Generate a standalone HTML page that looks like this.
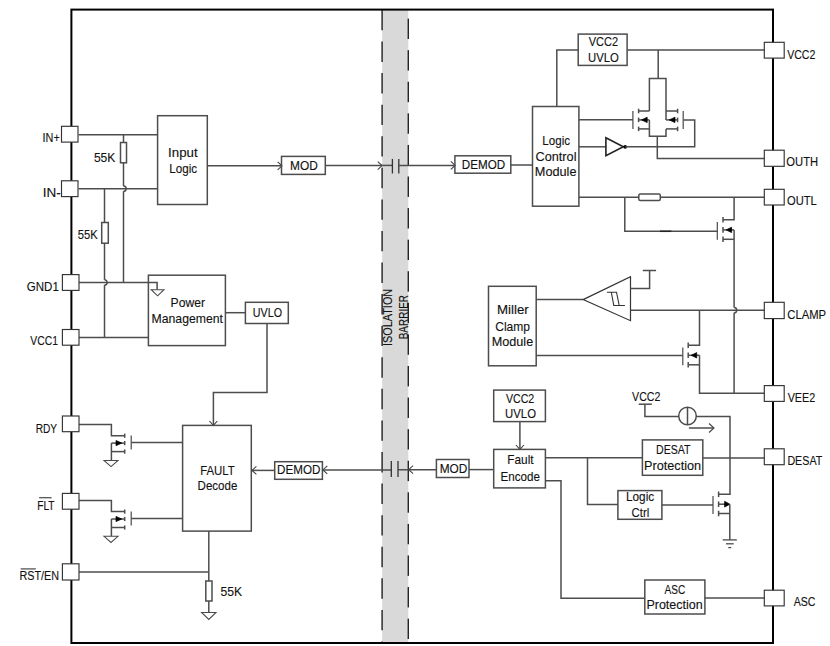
<!DOCTYPE html>
<html><head><meta charset="utf-8"><title>Block diagram</title><style>
html,body{margin:0;padding:0;background:#fff;}
svg{display:block;}
.w{fill:none;stroke:#4d4d4d;stroke-width:1.5;}
.b{fill:none;stroke:#4d4d4d;stroke-width:1.5;}
.pad{fill:#fff;stroke:#333;stroke-width:1.15;}
.border{fill:none;stroke:#000;stroke-width:2;}
.barfill{fill:#d9d9d9;stroke:none;}
.dash{stroke:#262626;stroke-width:1.45;}
.ah{fill:none;stroke:#444;stroke-width:1.1;}
.cap{stroke:#333;stroke-width:1.3;}
.gate{stroke:#4a4a4a;stroke-width:1.2;}
.arr{fill:#000;stroke:#000;stroke-width:0.7;stroke-linejoin:miter;}
.gnd{fill:#fff;stroke:#4a4a4a;stroke-width:1.05;}
.inv{fill:none;stroke:#222;stroke-width:1.6;}
.cmp{fill:none;stroke:#333;stroke-width:1.2;}
.hy{fill:none;stroke:#333;stroke-width:1.1;}
.dot{fill:#000;}
.dk{stroke:#222;stroke-width:1.5;}
.gl{stroke:#4a4a4a;stroke-width:1.3;}
.ol{stroke:#555;stroke-width:1.3;}
.t{font-family:"Liberation Sans",sans-serif;fill:#111;stroke:#111;stroke-width:0.12;}
</style></head>
<body><svg width="830" height="646" viewBox="0 0 830 646">
<rect x="0" y="0" width="830" height="646" fill="#fff"/>
<rect class="barfill" x="382.2" y="9.6" width="26.1" height="633.4"/>
<line class="dash" x1="382.1" y1="9.9" x2="382.1" y2="30.3"/>
<line class="dash" x1="382.1" y1="41.48" x2="382.1" y2="61.88"/>
<line class="dash" x1="382.1" y1="73.06" x2="382.1" y2="93.46"/>
<line class="dash" x1="382.1" y1="104.64" x2="382.1" y2="125.04"/>
<line class="dash" x1="382.1" y1="136.22" x2="382.1" y2="156.62"/>
<line class="dash" x1="382.1" y1="167.8" x2="382.1" y2="188.2"/>
<line class="dash" x1="382.1" y1="199.38" x2="382.1" y2="219.78"/>
<line class="dash" x1="382.1" y1="230.96" x2="382.1" y2="251.36"/>
<line class="dash" x1="382.1" y1="262.54" x2="382.1" y2="282.94"/>
<line class="dash" x1="382.1" y1="294.12" x2="382.1" y2="314.52"/>
<line class="dash" x1="382.1" y1="325.7" x2="382.1" y2="346.1"/>
<line class="dash" x1="382.1" y1="357.28" x2="382.1" y2="377.68"/>
<line class="dash" x1="382.1" y1="388.86" x2="382.1" y2="409.26"/>
<line class="dash" x1="382.1" y1="420.44" x2="382.1" y2="440.84"/>
<line class="dash" x1="382.1" y1="452.02" x2="382.1" y2="472.42"/>
<line class="dash" x1="382.1" y1="483.6" x2="382.1" y2="504"/>
<line class="dash" x1="382.1" y1="515.18" x2="382.1" y2="535.58"/>
<line class="dash" x1="382.1" y1="546.76" x2="382.1" y2="567.16"/>
<line class="dash" x1="382.1" y1="578.34" x2="382.1" y2="598.74"/>
<line class="dash" x1="382.1" y1="609.92" x2="382.1" y2="630.32"/>
<line class="dash" x1="382.1" y1="641.5" x2="382.1" y2="643"/>
<line class="dash" x1="408.3" y1="18.6" x2="408.3" y2="39"/>
<line class="dash" x1="408.3" y1="50.18" x2="408.3" y2="70.58"/>
<line class="dash" x1="408.3" y1="81.76" x2="408.3" y2="102.16"/>
<line class="dash" x1="408.3" y1="113.34" x2="408.3" y2="133.74"/>
<line class="dash" x1="408.3" y1="144.92" x2="408.3" y2="165.32"/>
<line class="dash" x1="408.3" y1="176.5" x2="408.3" y2="196.9"/>
<line class="dash" x1="408.3" y1="208.08" x2="408.3" y2="228.48"/>
<line class="dash" x1="408.3" y1="239.66" x2="408.3" y2="260.06"/>
<line class="dash" x1="408.3" y1="271.24" x2="408.3" y2="291.64"/>
<line class="dash" x1="408.3" y1="302.82" x2="408.3" y2="323.22"/>
<line class="dash" x1="408.3" y1="334.4" x2="408.3" y2="354.8"/>
<line class="dash" x1="408.3" y1="365.98" x2="408.3" y2="386.38"/>
<line class="dash" x1="408.3" y1="397.56" x2="408.3" y2="417.96"/>
<line class="dash" x1="408.3" y1="429.14" x2="408.3" y2="449.54"/>
<line class="dash" x1="408.3" y1="460.72" x2="408.3" y2="481.12"/>
<line class="dash" x1="408.3" y1="492.3" x2="408.3" y2="512.7"/>
<line class="dash" x1="408.3" y1="523.88" x2="408.3" y2="544.28"/>
<line class="dash" x1="408.3" y1="555.46" x2="408.3" y2="575.86"/>
<line class="dash" x1="408.3" y1="587.04" x2="408.3" y2="607.44"/>
<line class="dash" x1="408.3" y1="618.62" x2="408.3" y2="639.02"/>
<line class="w" x1="78.6" y1="134.7" x2="157.6" y2="134.7"/>
<line class="w" x1="78.6" y1="188.7" x2="157.6" y2="188.7"/>
<line class="w" x1="123.5" y1="134.7" x2="123.5" y2="142.5"/>
<rect class="b" x="120.5" y="142.5" width="6" height="20.3"/>
<line class="w" x1="123.5" y1="162.8" x2="123.5" y2="186.1"/>
<path class="w" d="M123.5,186.1 A2.6,2.6 0 0 1 123.5,191.3"/>
<line class="w" x1="123.5" y1="191.3" x2="123.5" y2="282.4"/>
<line class="w" x1="104.5" y1="188.7" x2="104.5" y2="222.5"/>
<rect class="b" x="101.7" y="222.5" width="6.6" height="20.7"/>
<line class="w" x1="104.5" y1="243.2" x2="104.5" y2="279.8"/>
<path class="w" d="M104.5,279.8 A2.6,2.6 0 0 1 104.5,285"/>
<line class="w" x1="104.5" y1="285" x2="104.5" y2="337.5"/>
<polyline class="w" points="78.6,282.4 157.1,282.4 157.1,289.6"/>
<polygon class="gnd" points="151.2,289.7 164,289.7 157.6,295.8"/>
<line class="w" x1="78.6" y1="337.5" x2="148.4" y2="337.5"/>
<rect class="b" x="157.6" y="115.7" width="49.7" height="88.8"/>
<line class="w" x1="207.3" y1="165.8" x2="281.5" y2="165.8"/>
<polyline class="ah" points="277.6,161.8 282,165.8 277.6,169.8"/>
<rect class="b" x="281.5" y="156.4" width="43.8" height="18"/>
<line class="w" x1="325.3" y1="165.6" x2="382.1" y2="165.6"/>
<polyline class="ah" points="377.7,161.6 382.1,165.6 377.7,169.6"/>
<line class="w" x1="382.1" y1="165.4" x2="392.4" y2="165.4"/>
<line class="cap" x1="392.4" y1="158.9" x2="392.4" y2="173.5"/>
<line class="cap" x1="398.8" y1="158.9" x2="398.8" y2="173.5"/>
<line class="w" x1="398.8" y1="165.4" x2="454.9" y2="165.4"/>
<polyline class="ah" points="450.8,161.4 455.2,165.4 450.8,169.4"/>
<rect class="b" x="454.9" y="155.8" width="55.9" height="17.4"/>
<line class="w" x1="510.8" y1="165" x2="532.5" y2="165"/>
<rect class="b" x="148.4" y="275.2" width="77" height="70.4"/>
<line class="w" x1="225.4" y1="312.7" x2="245.4" y2="312.7"/>
<rect class="b" x="245.4" y="302.3" width="42.9" height="21.2"/>
<polyline class="w" points="267,323.5 267,392.4 213.4,392.4 213.4,425.4"/>
<polyline class="ah" points="209.4,421 213.4,425.4 217.4,421"/>
<rect class="b" x="182.6" y="425.4" width="68.7" height="105.7"/>
<rect class="b" x="274.7" y="461.7" width="47.7" height="17.6"/>
<line class="w" x1="252" y1="470.4" x2="274.7" y2="470.4"/>
<polyline class="ah" points="256.4,466.4 252,470.4 256.4,474.4"/>
<line class="w" x1="322.4" y1="469.9" x2="391.3" y2="469.9"/>
<polyline class="ah" points="327.3,465.9 322.9,469.9 327.3,473.9"/>
<line class="cap" x1="391.3" y1="461" x2="391.3" y2="477"/>
<line class="cap" x1="398" y1="461" x2="398" y2="477"/>
<line class="w" x1="398" y1="469.7" x2="436.4" y2="469.7"/>
<polyline class="ah" points="413.1,465.7 408.7,469.7 413.1,473.7"/>
<polyline class="w" points="78.6,424.6 111.4,424.6 111.4,435.7 124.7,435.7"/>
<line class="w" x1="124.7" y1="433.6" x2="124.7" y2="437.8"/>
<line class="w" x1="111.4" y1="443.1" x2="124.7" y2="443.1"/>
<polygon class="arr" points="116,440.5 121.8,443.1 116,445.7"/>
<line class="w" x1="124.7" y1="441" x2="124.7" y2="445.2"/>
<line class="w" x1="111.4" y1="451.6" x2="124.7" y2="451.6"/>
<line class="w" x1="124.7" y1="449.5" x2="124.7" y2="453.7"/>
<line class="w" x1="111.4" y1="443.1" x2="111.4" y2="460.4"/>
<polygon class="gnd" points="104,460.4 118,460.4 111,466.6"/>
<line class="gate" x1="131.2" y1="435.5" x2="131.2" y2="449.5"/>
<line class="w" x1="131.2" y1="442.6" x2="182.6" y2="442.6"/>
<polyline class="w" points="78.6,500.5 111.4,500.5 111.4,511.6 124.7,511.6"/>
<line class="w" x1="124.7" y1="509.5" x2="124.7" y2="513.7"/>
<line class="w" x1="111.4" y1="519" x2="124.7" y2="519"/>
<polygon class="arr" points="116,516.4 121.8,519 116,521.6"/>
<line class="w" x1="124.7" y1="516.9" x2="124.7" y2="521.1"/>
<line class="w" x1="111.4" y1="527.5" x2="124.7" y2="527.5"/>
<line class="w" x1="124.7" y1="525.4" x2="124.7" y2="529.6"/>
<line class="w" x1="111.4" y1="519" x2="111.4" y2="536.3"/>
<polygon class="gnd" points="104,536.3 118,536.3 111,542.5"/>
<line class="gate" x1="131.2" y1="511.4" x2="131.2" y2="525.4"/>
<line class="w" x1="131.2" y1="518.5" x2="182.6" y2="518.5"/>
<line class="w" x1="78.6" y1="571.9" x2="208.8" y2="571.9"/>
<line class="w" x1="208.8" y1="531.1" x2="208.8" y2="581"/>
<rect class="b" x="205.8" y="581" width="6.2" height="20"/>
<line class="w" x1="208.8" y1="601" x2="208.8" y2="612.5"/>
<polygon class="gnd" points="201.6,612.5 216,612.5 208.8,619.4"/>
<rect class="b" x="578.2" y="34.1" width="48.9" height="31.3"/>
<polyline class="w" points="578.2,50 556.8,50 556.8,106.5"/>
<line class="w" x1="627.1" y1="50" x2="764.3" y2="50"/>
<line class="w" x1="658.2" y1="50" x2="658.2" y2="78.5"/>
<polyline class="w" points="649.4,111 649.4,78.5 666,78.5 666,119.9"/>
<line class="w" x1="638.6" y1="111" x2="649.4" y2="111"/>
<line class="w" x1="638.6" y1="108.7" x2="638.6" y2="113.3"/>
<line class="w" x1="638.6" y1="119.9" x2="649.4" y2="119.9"/>
<line class="w" x1="638.6" y1="117.6" x2="638.6" y2="122.2"/>
<polygon class="arr" points="641.5,119.9 647.2,117.2 647.2,122.6"/>
<polyline class="w" points="649.4,119.9 649.4,136.3 666,136.3 666,128.9"/>
<line class="w" x1="638.6" y1="128.9" x2="649.4" y2="128.9"/>
<line class="w" x1="638.6" y1="126.6" x2="638.6" y2="131.2"/>
<line class="gate" x1="632.9" y1="111" x2="632.9" y2="128.9"/>
<line class="w" x1="666" y1="111" x2="677.6" y2="111"/>
<line class="w" x1="677.6" y1="108.7" x2="677.6" y2="113.3"/>
<line class="w" x1="666" y1="119.9" x2="677.6" y2="119.9"/>
<line class="w" x1="677.6" y1="117.6" x2="677.6" y2="122.2"/>
<polygon class="arr" points="669.2,119.9 675,117.2 675,122.6"/>
<line class="w" x1="666" y1="128.9" x2="677.6" y2="128.9"/>
<line class="w" x1="677.6" y1="126.6" x2="677.6" y2="131.2"/>
<line class="gate" x1="683.2" y1="111" x2="683.2" y2="128.9"/>
<rect class="b" x="532.5" y="106.5" width="46.4" height="99.7"/>
<line class="w" x1="578.9" y1="119.8" x2="632.9" y2="119.8"/>
<line class="w" x1="578.9" y1="146.8" x2="605.9" y2="146.8"/>
<polygon class="inv" points="605.9,137.8 623.3,146.8 605.9,155.8"/>
<circle class="dot" cx="625.2" cy="146.8" r="1.9"/>
<polyline class="w" points="625.2,146.8 694.7,146.8 694.7,119.9 683.2,119.9"/>
<polyline class="w" points="657.3,136.3 657.3,158.6 764.3,158.6"/>
<line class="w" x1="578.9" y1="197.3" x2="638.8" y2="197.3"/>
<rect class="b" x="638.8" y="194" width="21.5" height="6.5" rx="1.5"/>
<line class="w" x1="660.3" y1="197.3" x2="764.3" y2="197.3"/>
<polyline class="w" points="624.8,197.3 624.8,231.3 717.3,231.3"/>
<line class="dk" x1="660" y1="231.3" x2="671.3" y2="231.3"/>
<polyline class="w" points="734.1,197.3 734.1,219.8 723,219.8"/>
<line class="w" x1="723" y1="217" x2="723" y2="222.6"/>
<line class="w" x1="723" y1="229.9" x2="734.1" y2="229.9"/>
<line class="w" x1="723" y1="227.1" x2="723" y2="232.7"/>
<polygon class="arr" points="726.1,229.9 731.6,227.2 731.6,232.6"/>
<line class="w" x1="723" y1="239.3" x2="734.1" y2="239.3"/>
<line class="w" x1="723" y1="236.5" x2="723" y2="242.1"/>
<line class="gate" x1="717.3" y1="222" x2="717.3" y2="239.8"/>
<line class="w" x1="734.1" y1="229.9" x2="734.1" y2="307.6"/>
<path class="w" d="M734.1,307.6 A2.6,2.6 0 0 1 734.1,312.8"/>
<line class="w" x1="734.1" y1="312.8" x2="734.1" y2="393.2"/>
<rect class="b" x="488.5" y="286.3" width="47.7" height="79.5"/>
<line class="w" x1="536.2" y1="299.4" x2="583.1" y2="299.4"/>
<polygon class="cmp" points="583.1,299.6 630.5,276.8 630.5,320.7"/>
<polyline class="w" points="630.5,288.4 649.6,288.4 649.6,270.5"/>
<line class="w" x1="642.8" y1="270.5" x2="656.1" y2="270.5"/>
<line class="w" x1="630.5" y1="310.2" x2="764.3" y2="310.2"/>
<polyline class="hy" points="607,292.2 616.5,292.2 619.2,305.5 624.9,305.5"/>
<polyline class="hy" points="611.3,292.2 613.8,305.5 619.2,305.5"/>
<polyline class="w" points="699.5,310.2 699.5,345.2 688.2,345.2"/>
<line class="w" x1="688.2" y1="342.4" x2="688.2" y2="348"/>
<line class="w" x1="688.2" y1="355.3" x2="699.5" y2="355.3"/>
<line class="w" x1="688.2" y1="352.5" x2="688.2" y2="358.1"/>
<polygon class="arr" points="691.2,355.3 696.7,352.6 696.7,358"/>
<line class="w" x1="688.2" y1="364.8" x2="699.5" y2="364.8"/>
<line class="w" x1="688.2" y1="362" x2="688.2" y2="367.6"/>
<line class="gate" x1="682.8" y1="347.5" x2="682.8" y2="365.2"/>
<line class="w" x1="536.2" y1="355.6" x2="682.8" y2="355.6"/>
<polyline class="w" points="699.5,355.3 699.5,393.2 764.3,393.2"/>
<rect class="b" x="493.7" y="390.1" width="51.7" height="31.5"/>
<line class="w" x1="519.9" y1="421.6" x2="519.9" y2="449.4"/>
<polyline class="ah" points="515.9,445 519.9,449.4 523.9,445"/>
<rect class="b" x="493.7" y="449.4" width="51.7" height="38.5"/>
<rect class="b" x="436.4" y="459.5" width="32.6" height="18"/>
<line class="w" x1="469" y1="469.6" x2="493.7" y2="469.6"/>
<line class="w" x1="545.4" y1="457.8" x2="642.4" y2="457.8"/>
<rect class="b" x="642.4" y="439.9" width="60.4" height="35.4"/>
<line class="w" x1="702.8" y1="458" x2="764.3" y2="458"/>
<polyline class="w" points="587.5,457.8 587.5,504.5 617.9,504.5"/>
<rect class="b" x="617.9" y="490.6" width="44" height="28.7"/>
<line class="w" x1="661.9" y1="505" x2="713" y2="505"/>
<line class="w" x1="638.7" y1="404.2" x2="651.8" y2="404.2"/>
<polyline class="w" points="644.9,404.2 644.9,416.5 678.7,416.5"/>
<circle class="b" cx="687.5" cy="416.0" r="8.8"/>
<line class="w" x1="687.5" y1="407.2" x2="687.5" y2="424.8"/>
<polyline class="w" points="696.3,416.5 730,416.5 730,494.3 718.6,494.3"/>
<line class="w" x1="718.6" y1="491.5" x2="718.6" y2="497.1"/>
<line class="w" x1="688.9" y1="428" x2="714" y2="428"/>
<polyline class="ah" points="709,423.5 714,428 709,432.5"/>
<line class="w" x1="718.6" y1="504.2" x2="725" y2="504.2"/>
<line class="w" x1="718.6" y1="501.4" x2="718.6" y2="507"/>
<polygon class="arr" points="729.9,504.2 724.6,501.3 724.6,507.1"/>
<line class="w" x1="718.6" y1="513.5" x2="729.8" y2="513.5"/>
<line class="w" x1="718.6" y1="510.7" x2="718.6" y2="516.3"/>
<line class="gate" x1="713" y1="496.1" x2="713" y2="514.1"/>
<line class="w" x1="729.8" y1="504.2" x2="729.8" y2="539.9"/>
<line class="gl" x1="722.7" y1="539.9" x2="736.8" y2="539.9"/>
<line class="gl" x1="726" y1="543.8" x2="733.7" y2="543.8"/>
<line class="gl" x1="728.3" y1="547.6" x2="731.2" y2="547.6"/>
<polyline class="w" points="545.4,480.7 561,480.7 561,598.2 644.8,598.2"/>
<rect class="b" x="644.8" y="580" width="60.1" height="34"/>
<line class="w" x1="704.9" y1="597.9" x2="764.3" y2="597.9"/>
<rect class="border" x="71.4" y="9.6" width="701.6" height="633.4"/>
<rect class="pad" x="61.5" y="126.3" width="16.5" height="15.8"/>
<rect class="pad" x="61.5" y="180.8" width="16.5" height="15.8"/>
<rect class="pad" x="62.4" y="274.6" width="16.6" height="15.8"/>
<rect class="pad" x="62.4" y="329.5" width="16.6" height="15.7"/>
<rect class="pad" x="62.4" y="416" width="16.6" height="15.7"/>
<rect class="pad" x="62.4" y="493.4" width="16.6" height="15.8"/>
<rect class="pad" x="62.4" y="563.8" width="16.6" height="16.2"/>
<rect class="pad" x="764.3" y="42.3" width="19.9" height="15.8"/>
<rect class="pad" x="764.3" y="150.2" width="19.9" height="16.1"/>
<rect class="pad" x="764.3" y="189.3" width="19.9" height="15.7"/>
<rect class="pad" x="764.3" y="302.3" width="19.9" height="16.3"/>
<rect class="pad" x="764.3" y="385.6" width="19.9" height="15.8"/>
<rect class="pad" x="764.3" y="448.8" width="19.9" height="15.9"/>
<rect class="pad" x="764.3" y="590.2" width="19.9" height="15.7"/>
<text class="t" x="42.6" y="142.4" font-size="12" textLength="17.2" lengthAdjust="spacingAndGlyphs">IN+</text>
<text class="t" x="42.8" y="197" font-size="12" textLength="18" lengthAdjust="spacingAndGlyphs">IN-</text>
<text class="t" x="26.8" y="291.1" font-size="12" textLength="32" lengthAdjust="spacingAndGlyphs">GND1</text>
<text class="t" x="30.3" y="345.3" font-size="12" textLength="27.6" lengthAdjust="spacingAndGlyphs">VCC1</text>
<text class="t" x="35.7" y="432.9" font-size="12" textLength="21.4" lengthAdjust="spacingAndGlyphs">RDY</text>
<text class="t" x="37.2" y="509.5" font-size="12" textLength="17.4" lengthAdjust="spacingAndGlyphs">FLT</text>
<text class="t" x="19.4" y="579.8" font-size="12" textLength="39.6" lengthAdjust="spacingAndGlyphs">RST/EN</text>
<line class="ol" x1="39.1" y1="497.7" x2="51.6" y2="497.7"/>
<line class="ol" x1="20.7" y1="568.9" x2="35.8" y2="568.9"/>
<text class="t" x="787.2" y="58.5" font-size="12" textLength="28.2" lengthAdjust="spacingAndGlyphs">VCC2</text>
<text class="t" x="786.3" y="166.3" font-size="12" textLength="31.8" lengthAdjust="spacingAndGlyphs">OUTH</text>
<text class="t" x="787" y="205.3" font-size="12" textLength="29.7" lengthAdjust="spacingAndGlyphs">OUTL</text>
<text class="t" x="787.3" y="318.9" font-size="12" textLength="38.8" lengthAdjust="spacingAndGlyphs">CLAMP</text>
<text class="t" x="787.7" y="401.7" font-size="12" textLength="27.5" lengthAdjust="spacingAndGlyphs">VEE2</text>
<text class="t" x="787.4" y="464.5" font-size="12" textLength="34.9" lengthAdjust="spacingAndGlyphs">DESAT</text>
<text class="t" x="793.7" y="605.9" font-size="12" textLength="21.8" lengthAdjust="spacingAndGlyphs">ASC</text>
<text class="t" x="93.9" y="161.8" font-size="12.2" textLength="21.4" lengthAdjust="spacingAndGlyphs">55K</text>
<text class="t" x="77.7" y="239" font-size="12.2" textLength="19.9" lengthAdjust="spacingAndGlyphs">55K</text>
<text class="t" x="220.6" y="596.4" font-size="12.2" textLength="21.6" lengthAdjust="spacingAndGlyphs">55K</text>
<text class="t" x="168.1" y="156.8" font-size="12.2" textLength="29.5" lengthAdjust="spacingAndGlyphs">Input</text>
<text class="t" x="169.3" y="172.7" font-size="12.2" textLength="27.8" lengthAdjust="spacingAndGlyphs">Logic</text>
<text class="t" x="290.1" y="170.1" font-size="12.2" textLength="27.8" lengthAdjust="spacingAndGlyphs">MOD</text>
<text class="t" x="461.8" y="169.1" font-size="12.2" textLength="43.4" lengthAdjust="spacingAndGlyphs">DEMOD</text>
<text class="t" x="170.6" y="307.1" font-size="12.2" textLength="34.4" lengthAdjust="spacingAndGlyphs">Power</text>
<text class="t" x="151.5" y="322.7" font-size="12.2" textLength="71.5" lengthAdjust="spacingAndGlyphs">Management</text>
<text class="t" x="252.8" y="317.3" font-size="12.2" textLength="29.2" lengthAdjust="spacingAndGlyphs">UVLO</text>
<text class="t" x="200.2" y="474.6" font-size="12.2" textLength="34.6" lengthAdjust="spacingAndGlyphs">FAULT</text>
<text class="t" x="197.6" y="489.8" font-size="12.2" textLength="39.8" lengthAdjust="spacingAndGlyphs">Decode</text>
<text class="t" x="277.1" y="473.5" font-size="12.2" textLength="43.4" lengthAdjust="spacingAndGlyphs">DEMOD</text>
<text class="t" x="439.7" y="473.1" font-size="12.2" textLength="27.7" lengthAdjust="spacingAndGlyphs">MOD</text>
<text class="t" x="588.7" y="46.3" font-size="12.2" textLength="29.4" lengthAdjust="spacingAndGlyphs">VCC2</text>
<text class="t" x="588" y="61.9" font-size="12.2" textLength="30.8" lengthAdjust="spacingAndGlyphs">UVLO</text>
<text class="t" x="542.3" y="145.25" font-size="12.2" textLength="27.7" lengthAdjust="spacingAndGlyphs">Logic</text>
<text class="t" x="535.5" y="160.75" font-size="12.2" textLength="41" lengthAdjust="spacingAndGlyphs">Control</text>
<text class="t" x="534.8" y="176.35" font-size="12.2" textLength="41.7" lengthAdjust="spacingAndGlyphs">Module</text>
<text class="t" x="497" y="314.2" font-size="12.2" textLength="31.7" lengthAdjust="spacingAndGlyphs">Miller</text>
<text class="t" x="495.2" y="330.6" font-size="12.2" textLength="34.8" lengthAdjust="spacingAndGlyphs">Clamp</text>
<text class="t" x="491.7" y="345.8" font-size="12.2" textLength="41.5" lengthAdjust="spacingAndGlyphs">Module</text>
<text class="t" x="505.9" y="402.8" font-size="12.2" textLength="28.3" lengthAdjust="spacingAndGlyphs">VCC2</text>
<text class="t" x="505.1" y="417.9" font-size="12.2" textLength="30.9" lengthAdjust="spacingAndGlyphs">UVLO</text>
<text class="t" x="507.3" y="464.1" font-size="12.2" textLength="26.3" lengthAdjust="spacingAndGlyphs">Fault</text>
<text class="t" x="500.6" y="481" font-size="12.2" textLength="39.4" lengthAdjust="spacingAndGlyphs">Encode</text>
<text class="t" x="632.1" y="400.7" font-size="12.2" textLength="28.3" lengthAdjust="spacingAndGlyphs">VCC2</text>
<text class="t" x="656.1" y="453.6" font-size="12.2" textLength="34.4" lengthAdjust="spacingAndGlyphs">DESAT</text>
<text class="t" x="644.1" y="469.5" font-size="12.2" textLength="57" lengthAdjust="spacingAndGlyphs">Protection</text>
<text class="t" x="626" y="501" font-size="12.2" textLength="28.2" lengthAdjust="spacingAndGlyphs">Logic</text>
<text class="t" x="631.6" y="516.7" font-size="12.2" textLength="17.6" lengthAdjust="spacingAndGlyphs">Ctrl</text>
<text class="t" x="664.5" y="593.8" font-size="12.2" textLength="20.7" lengthAdjust="spacingAndGlyphs">ASC</text>
<text class="t" x="646.4" y="608.8" font-size="12.2" textLength="56.3" lengthAdjust="spacingAndGlyphs">Protection</text>
<text class="t" font-size="12.2" transform="translate(391.8,346) rotate(-90)" textLength="57.2" lengthAdjust="spacingAndGlyphs">ISOLATION</text>
<text class="t" font-size="12.2" transform="translate(407.8,339.3) rotate(-90)" textLength="44.3" lengthAdjust="spacingAndGlyphs">BARRIER</text>
</svg></body></html>
